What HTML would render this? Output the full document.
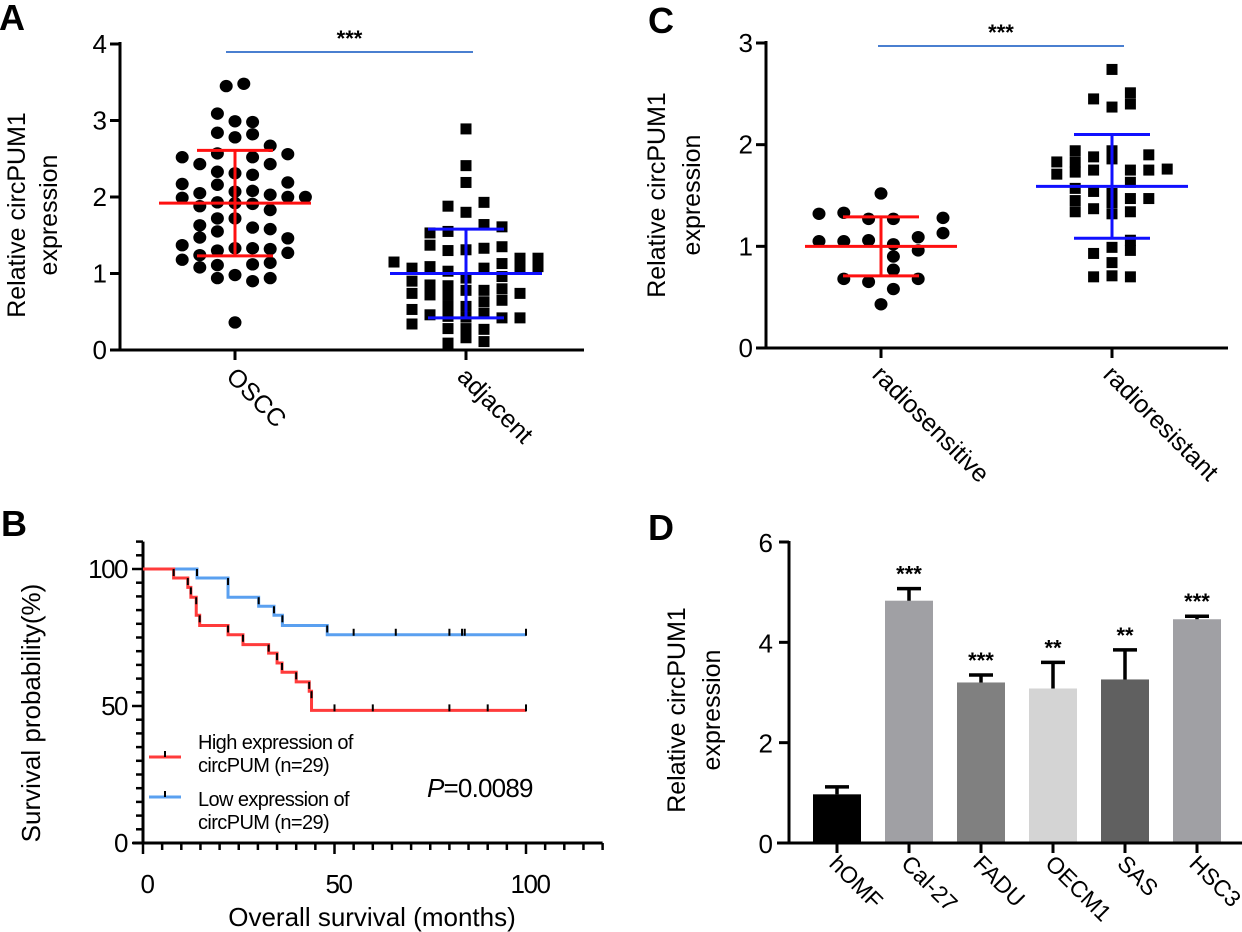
<!DOCTYPE html>
<html><head><meta charset="utf-8">
<style>
html,body{margin:0;padding:0;background:#fff;}
svg{display:block;font-family:"Liberation Sans",Arial,sans-serif;}
</style></head>
<body>
<svg id="fig" width="1242" height="932" viewBox="0 0 1242 932" xmlns="http://www.w3.org/2000/svg">
<g id="gA"></g>
<g id="gB"></g>
<g id="gC"></g>
<g id="gD"></g>
</svg>
<script>
// ---------- Panel A data ----------
const aOsccValues = [3.45,3.48,3.09,2.99,2.98,2.84,2.82,2.78,2.67,2.52,2.57,2.52,2.56,2.43,2.43,2.33,2.31,2.29,2.17,2.16,2.19,2.07,2.08,2.05,2.03,1.99,2.0,2.0,1.93,1.88,1.92,1.91,1.83,1.72,1.72,1.63,1.60,1.58,1.55,1.37,1.47,1.46,1.30,1.33,1.33,1.32,1.24,1.27,1.18,1.11,1.12,1.14,1.08,0.94,0.98,0.94,0.90,0.36];
const aOsccSlots = [-0.5,0.5,-1,0,1,-1,1,0,2,-3,-1,1,3,-2,2,-1,0,1,-3,-1,3,0,1,-2,2,-3,3,4,-1,-2,0,1,2,-1,0,-2,1,2,-1,-3,-2,3,-1,0,1,2,-2,3,-3,-1,1,2,-2,-1,0,2,1,0];
const aAdjValues = [2.89,2.41,2.19,1.88,1.93,1.80,1.64,1.61,1.53,1.55,1.37,1.30,1.33,1.35,1.31,1.15,1.20,1.20,1.13,1.07,1.09,1.03,1.07,0.94,0.96,1.09,1.09,0.90,0.85,0.84,0.78,0.80,0.74,0.72,0.72,0.78,0.74,0.63,0.65,0.53,0.58,0.57,0.46,0.44,0.43,0.48,0.42,0.42,0.34,0.28,0.28,0.27,0.09,0.16,0.11];
const aAdjSlots = [0,0,0,-1,1,0,1,2,-2,-1,-2,-1,1,2,0,-4,3,4,2,-3,-2,-1,1,0,2,3,4,-3,-2,-1,1,2,-3,-2,-1,0,3,1,2,-3,-1,0,-2,-1,0,1,2,3,-3,-1,0,1,-1,0,1];
const aMeans = [1.92, 1.00];
const aSD = [0.69, 0.58];
const aYTicks = [0,1,2,3,4];
const aCats = ["OSCC","adjacent"];
// ---------- Panel B data ----------
const bHighT = [0,8.0,11.7,12.5,13.9,14.8,22.2,26.1,32.8,35.0,36.3,40.0,43.4,44.0,100];
const bHighS = [100,96.7,93.3,89.7,83.1,79.4,76.0,72.4,69.3,65.7,62.3,58.8,55.4,48.4,48.4];
const bHighCens = [50,60,80,90,100];
const bLowT = [0,14.1,22.2,30.2,34.2,36.4,48.1,100];
const bLowS = [100,96.7,89.7,86.4,83.1,79.4,76.0,76.0];
const bLowCens = [55,66,80,83.3,84,100];
const bXTicks = [0,50,100];
const bYTicks = [0,50,100];
// ---------- Panel C data ----------
const cSensValues = [1.52,1.32,1.33,1.27,1.27,1.28,1.13,1.09,1.05,1.05,1.06,1.02,0.96,0.90,0.77,0.68,0.65,0.68,0.58,0.43];
const cSensSlots = [0,-5,-3,-1,1,5,5,3,-5,-3,-1,1,3,1,1,-3,-1,3,1,0];
const cResValues = [2.74,2.45,2.51,2.40,2.37,1.94,1.94,1.88,1.90,1.83,1.83,1.86,1.71,1.73,1.75,1.75,1.75,1.76,1.63,1.57,1.54,1.52,1.47,1.47,1.45,1.43,1.34,1.37,1.34,1.32,1.06,0.99,0.96,0.93,0.84,0.70,0.71,0.70];
const cResSlots = [0,-1,1,1,0,-2,0,-1,2,-3,-2,0,-3,-2,-1,1,2,3,1,-2,-1,0,1,2,-2,0,-2,-1,1,0,1,0,1,-1,0,-1,0,1];
const cMeans = [1.00, 1.59];
const cSD = [0.29, 0.51];
const cYTicks = [0,1,2,3];
const cCats = ["radiosensitive","radioresistant"];
// ---------- Panel D data ----------
const dCats = ["hOMF","Cal-27","FADU","OECM1","SAS","HSC3"];
const dValues = [0.97,4.83,3.20,3.08,3.26,4.46];
const dErr = [0.15,0.24,0.15,0.52,0.59,0.06];
const dStars = ["","***","***","**","**","***"];
const dColors = ["#000000","#a0a0a4","#808080","#d4d4d4","#606060","#a0a0a4"];
const dYTicks = [0,2,4,6];

const NS="http://www.w3.org/2000/svg";
function mk(parent, tag, attrs, text){
  const e=document.createElementNS(NS,tag);
  for(const k in attrs) e.setAttribute(k,attrs[k]);
  if(text!==undefined) e.textContent=text;
  parent.appendChild(e); return e;
}

function scatterPanel(g, cfg){
  const y = v => cfg.y0 - v * (cfg.y0 - cfg.yTop) / cfg.yMax;
  const ax = mk(g,'line',{x1:cfg.ax,y1:cfg.yTop-2,x2:cfg.ax,y2:cfg.y0+1.5,stroke:'#000','stroke-width':3});
  
  
  const xa = mk(g,'line',{x1:cfg.ax-10,y1:cfg.y0,x2:cfg.xEnd,y2:cfg.y0,stroke:'#000','stroke-width':3});
  
  
  cfg.yTicks.forEach(t=>{
    const tk = mk(g,'line',{x1:cfg.ax-10,y1:y(t),x2:cfg.ax,y2:y(t),stroke:'#000','stroke-width':3});
    
    
    const tl = mk(g,'text',{x:cfg.ax-13,y:y(t)+9,'text-anchor':'end','font-size':26},String(t));
    
    
  });
  cfg.cats.forEach((c,i)=>{
    const cx=cfg.catX[i];
    const tk = mk(g,'line',{x1:cx,y1:cfg.y0,x2:cx,y2:cfg.y0+10,stroke:'#000','stroke-width':3});
    
    
    const tl = mk(g,'text',{x:0,y:0,'font-size':25,transform:`translate(${cx-10},${cfg.y0+28}) rotate(45)`},c);
    
    
  });
  cfg.series.forEach((s,i)=>{
    const cx=cfg.catX[i];
    s.values.forEach((v,j)=>{
      const px = cx + s.slots[j]*s.spacing, py=y(v);
      let m;
      if(s.shape==='circle') m = mk(g,'ellipse',{cx:px,cy:py,rx:6.5,ry:6.2,fill:'#000'});
      else m = mk(g,'rect',{x:px-5.5,y:py-5.5,width:11,height:11,fill:'#000'});
      
      
    });
    const col = s.color, m = cfg.means[i], sd = cfg.sd[i];
    const el = mk(g,'path',{d:`M${cx-76},${y(m)}H${cx+76}M${cx},${y(m+sd)}V${y(m-sd)}M${cx-38},${y(m+sd)}H${cx+38}M${cx-38},${y(m-sd)}H${cx+38}`,stroke:col,'stroke-width':3,fill:'none'});
    
    
  });
  const sig = mk(g,'line',{x1:cfg.sig[0],y1:cfg.sig[2],x2:cfg.sig[1],y2:cfg.sig[2],stroke:'#4a7fd0','stroke-width':2});
  
  
  const st = mk(g,'text',{x:(cfg.sig[0]+cfg.sig[1])/2,y:cfg.sig[2]-6,'text-anchor':'middle','font-size':22,'font-weight':'bold'},'***');
  
  
  const t1 = mk(g,'text',{x:0,y:0,'text-anchor':'middle','font-size':25,transform:`translate(${cfg.titleX[0]},${cfg.titleY}) rotate(-90)`},'Relative circPUM1');
  
  
  const t2 = mk(g,'text',{x:0,y:0,'text-anchor':'middle','font-size':25,transform:`translate(${cfg.titleX[1]},${cfg.titleY}) rotate(-90)`},'expression');
  
  
  const L = mk(g,'text',{x:cfg.letter[0],y:cfg.letter[1],'font-size':36,'font-weight':'bold'},cfg.letter[2]);
  
  
}

scatterPanel(document.getElementById('gA'),{
  ax:120,y0:350,yTop:44,yMax:4,xEnd:584,yTicks:aYTicks,cats:aCats,catX:[235,466],
  means:aMeans,sd:aSD,sig:[226,473,52],titleX:[25,57],titleY:215,letter:[-1,30,'A'],
  series:[{values:aOsccValues,slots:aOsccSlots,spacing:17.6,shape:'circle',color:'#ff1010'},
          {values:aAdjValues,slots:aAdjSlots,spacing:18,shape:'square',color:'#1010ff'}]
});
scatterPanel(document.getElementById('gC'),{
  ax:766,y0:348,yTop:43,yMax:3,xEnd:1228,yTicks:cYTicks,cats:cCats,catX:[881,1112],
  means:cMeans,sd:cSD,sig:[878,1124,46],titleX:[665,700],titleY:195,letter:[648,33,'C'],
  series:[{values:cSensValues,slots:cSensSlots,spacing:12.4,shape:'circle',color:'#ff1010'},
          {values:cResValues,slots:cResSlots,spacing:18.4,shape:'square',color:'#1010ff'}]
});

// ---------- Panel B ----------
(function(){
  const g=document.getElementById('gB');
  const x0=143, y0=843;
  const X=t=>x0+t*3.83, Y=p=>y0-p*2.74;
  const ya=mk(g,'line',{x1:x0,y1:Y(110),x2:x0,y2:y0+1.5,stroke:'#000','stroke-width':3});
  
  
  const xa=mk(g,'line',{x1:x0-10,y1:y0,x2:X(120),y2:y0,stroke:'#000','stroke-width':3});
  
  
  for(let p=0;p<=110;p+=5){
    const t=mk(g,'line',{x1:x0-(p%50===0?11:7),y1:Y(p),x2:x0,y2:Y(p),stroke:'#000','stroke-width':2.5});
    
    
  }
  for(let m=0;m<=120;m+=5){
    const t=mk(g,'line',{x1:X(m),y1:y0,x2:X(m),y2:y0+(m%50===0?11:7),stroke:'#000','stroke-width':2.5});
    
    
  }
  bYTicks.forEach(p=>{
    const t=mk(g,'text',{x:x0-16,y:Y(p)+9,'text-anchor':'end','font-size':26,'letter-spacing':-1.5},String(p));
    
    
  });
  bXTicks.forEach(m=>{
    const t=mk(g,'text',{x:X(m)+4,y:y0+50,'text-anchor':'middle','font-size':26,'letter-spacing':-1.5},String(m));
    
    
  });
  function curve(T,S,cens,col,name){
    let d=`M${X(T[0])},${Y(S[0])}`;
    for(let i=1;i<T.length;i++){ d+=`H${X(T[i])}V${Y(S[i])}`; }
    const p=mk(g,'path',{d:d,stroke:col,'stroke-width':3,fill:'none'});
    
    
    for(let i=1;i<T.length-1;i++){
      const t=mk(g,'line',{x1:X(T[i]),y1:Y(S[i-1]),x2:X(T[i]),y2:Y(S[i-1])+7,stroke:'#000','stroke-width':2});
      
      
    }
    const last=S[S.length-1];
    cens.forEach(c=>{
      const t=mk(g,'line',{x1:X(c),y1:Y(last)-6,x2:X(c),y2:Y(last)+1,stroke:'#000','stroke-width':2});
      
      
    });
  }
  curve(bLowT,bLowS,bLowCens,'#5aa0f0','low-expression-curve');
  curve(bHighT,bHighS,bHighCens,'#ff3b3b','high-expression-curve');
  const t1=mk(g,'text',{x:0,y:0,'text-anchor':'middle','font-size':26,transform:`translate(40,713) rotate(-90)`},'Survival probability(%)');
  
  
  const t2=mk(g,'text',{x:372,y:926,'text-anchor':'middle','font-size':26},'Overall survival (months)');
  
  
  const L=mk(g,'text',{x:1,y:536,'font-size':36,'font-weight':'bold'},'B');
  
  
  const l1=mk(g,'line',{x1:149,y1:757,x2:181,y2:757,stroke:'#ff3b3b','stroke-width':3});
  
  
  mk(g,'line',{x1:165,y1:751,x2:165,y2:757,stroke:'#000','stroke-width':2});
  const l2=mk(g,'line',{x1:149,y1:797,x2:181,y2:797,stroke:'#5aa0f0','stroke-width':3});
  
  
  mk(g,'line',{x1:165,y1:791,x2:165,y2:797,stroke:'#000','stroke-width':2});
  [['High expression of',749],['circPUM (n=29)',772],['Low expression of',806],['circPUM (n=29)',829]].forEach(([s,yy])=>{
    const t=mk(g,'text',{x:198,y:yy,'font-size':20,'letter-spacing':-0.6},s);
    
    
  });
  const pt=mk(g,'text',{x:427,y:797,'font-size':26,'letter-spacing':-0.8});
  
  
  mk(pt,'tspan',{'font-style':'italic'},'P');
  mk(pt,'tspan',{},'=0.0089');
})();

// ---------- Panel D ----------
(function(){
  const g=document.getElementById('gD');
  const x0=789,y0=843,top=542;
  const Y=v=>y0-v*(y0-top)/6;
  const X=i=>837+i*72;
  dCats.forEach((c,i)=>{
    const b=mk(g,'rect',{x:X(i)-24,y:Y(dValues[i]),width:48,height:y0-Y(dValues[i]),fill:dColors[i]});
    
    
    const e=mk(g,'path',{d:`M${X(i)},${Y(dValues[i])}V${Y(dValues[i]+dErr[i])}M${X(i)-12},${Y(dValues[i]+dErr[i])}H${X(i)+12}`,stroke:'#000','stroke-width':3.5,fill:'none'});
    
    
    if(dStars[i]){
      const s=mk(g,'text',{x:X(i),y:Y(dValues[i]+dErr[i])-7,'text-anchor':'middle','font-size':22,'font-weight':'bold'},dStars[i]);
      
      
    }
    const tk=mk(g,'line',{x1:X(i),y1:y0,x2:X(i),y2:y0+10,stroke:'#000','stroke-width':3});
    
    
    const tl=mk(g,'text',{x:0,y:0,'font-size':23,transform:`translate(${X(i)-9},${y0+22}) rotate(45)`},c);
    
    
  });
  const ya=mk(g,'line',{x1:x0,y1:top-1,x2:x0,y2:y0+1.5,stroke:'#000','stroke-width':3});
  
  
  const xa=mk(g,'line',{x1:x0-12,y1:y0,x2:1242,y2:y0,stroke:'#000','stroke-width':3});
  
  
  dYTicks.forEach(t=>{
    const tk=mk(g,'line',{x1:x0-10,y1:Y(t),x2:x0,y2:Y(t),stroke:'#000','stroke-width':3});
    
    
    const tl=mk(g,'text',{x:x0-16,y:Y(t)+10,'text-anchor':'end','font-size':26},String(t));
    
    
  });
  const t1=mk(g,'text',{x:0,y:0,'text-anchor':'middle','font-size':25,transform:`translate(685,710) rotate(-90)`},'Relative circPUM1');
  
  
  const t2=mk(g,'text',{x:0,y:0,'text-anchor':'middle','font-size':25,transform:`translate(720,710) rotate(-90)`},'expression');
  
  
  const L=mk(g,'text',{x:648,y:540,'font-size':36,'font-weight':'bold'},'D');
  
  
})();
</script>
</body></html>
